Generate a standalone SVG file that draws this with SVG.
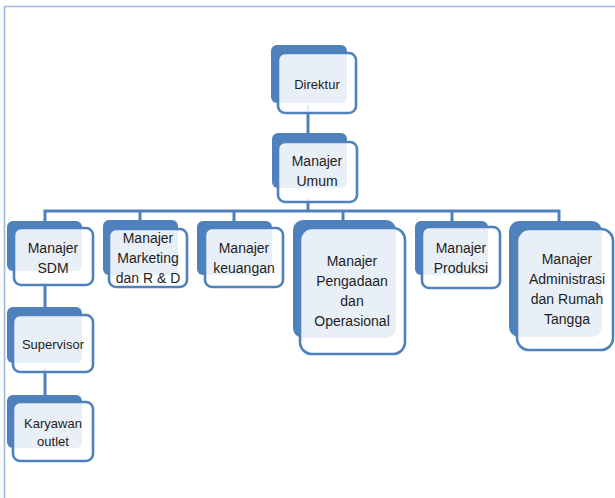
<svg xmlns="http://www.w3.org/2000/svg" width="615" height="498" viewBox="0 0 615 498">
<style>
.frame{fill:none;stroke:#9FB8E0;stroke-width:1.6}
.back{fill:#4F81BD}
.front{fill:#FFFFFF;fill-opacity:0.87;stroke:#4F81BD;stroke-width:2.6}
.conn{fill:none;stroke:#4F81BD;stroke-width:3}
text{font-family:"Liberation Sans",Arial,sans-serif;font-size:14px;fill:#1E1E1E;text-anchor:middle}
.sm{font-size:13px}
</style>
<rect width="615" height="498" fill="#FFFFFF"/>
<path class="frame" d="M4.5,498 V6.5 H615"/>
<g id="connectors">
<path class="conn" d="M308,105 V145"/>
<path class="conn" d="M308,198 V211"/>
<path class="conn" d="M45,224 V211 H559 V224"/>
<path class="conn" d="M140,211 V224"/>
<path class="conn" d="M234,211 V224"/>
<path class="conn" d="M343,211 V224"/>
<path class="conn" d="M452,211 V224"/>
<path class="conn" d="M45,282 V318"/>
<path class="conn" d="M45,368 V405"/>
</g>
<g id="direktur">
<rect class="back" x="271" y="45" width="76" height="58" rx="6"/>
<rect class="front" x="278" y="53" width="78" height="60" rx="7"/>
<text class="sm" x="317" y="89">Direktur</text>
</g>
<g id="manajer-umum">
<rect class="back" x="272" y="133" width="75" height="55" rx="6"/>
<rect class="front" x="278" y="142" width="79" height="60" rx="7"/>
<text x="317" y="166">Manajer</text>
<text x="317" y="186">Umum</text>
</g>
<g id="manajer-sdm">
<rect class="back" x="7" y="221" width="75" height="50" rx="6"/>
<rect class="front" x="14" y="228" width="79" height="57" rx="7"/>
<text x="53" y="253">Manajer</text>
<text x="53" y="273">SDM</text>
</g>
<g id="manajer-marketing">
<rect class="back" x="103" y="220" width="75" height="55" rx="6"/>
<rect class="front" x="109" y="229" width="78" height="58" rx="7"/>
<text x="148" y="243">Manajer</text>
<text x="148" y="263">Marketing</text>
<text x="148" y="283">dan R &amp; D</text>
</g>
<g id="manajer-keuangan">
<rect class="back" x="197" y="221" width="75" height="54" rx="6"/>
<rect class="front" x="205" y="228" width="78" height="59" rx="7"/>
<text x="244" y="253">Manajer</text>
<text x="244" y="273">keuangan</text>
</g>
<g id="manajer-pengadaan">
<rect class="back" x="293" y="220" width="103" height="118" rx="10"/>
<rect class="front" x="300" y="228" width="105" height="126" rx="12"/>
<text x="352" y="266">Manajer</text>
<text x="352" y="286">Pengadaan</text>
<text x="352" y="306">dan</text>
<text x="352" y="326">Operasional</text>
</g>
<g id="manajer-produksi">
<rect class="back" x="415" y="221" width="73" height="54" rx="6"/>
<rect class="front" x="422" y="227" width="78" height="61" rx="7"/>
<text x="461" y="253">Manajer</text>
<text x="461" y="273">Produksi</text>
</g>
<g id="manajer-administrasi">
<rect class="back" x="509" y="221" width="93" height="116" rx="10"/>
<rect class="front" x="517" y="229" width="96" height="121" rx="12"/>
<text x="567" y="264">Manajer</text>
<text x="567" y="284">Administrasi</text>
<text x="567" y="304">dan Rumah</text>
<text x="567" y="324">Tangga</text>
</g>
<g id="supervisor">
<rect class="back" x="7" y="307" width="75" height="56" rx="6"/>
<rect class="front" x="13" y="315" width="80" height="57" rx="7"/>
<text class="sm" x="53" y="349">Supervisor</text>
</g>
<g id="karyawan-outlet">
<rect class="back" x="7" y="395" width="75" height="53" rx="6"/>
<rect class="front" x="13" y="402" width="80" height="59" rx="7"/>
<text class="sm" x="53" y="428">Karyawan</text>
<text class="sm" x="53" y="446">outlet</text>
</g>
</svg>
